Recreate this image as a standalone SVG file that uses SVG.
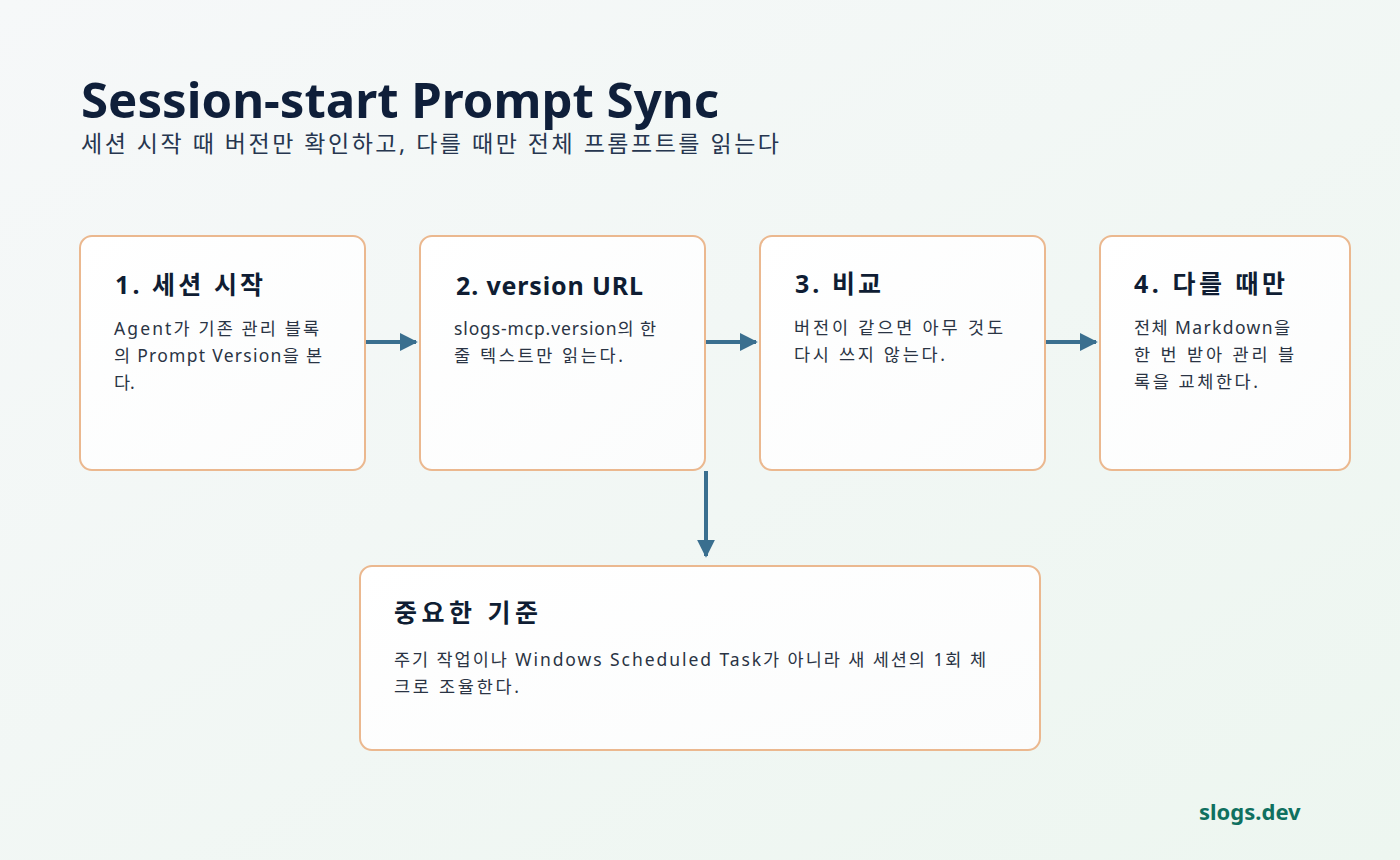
<svg xmlns="http://www.w3.org/2000/svg" width="1400" height="860" viewBox="0 0 1400 860">
<defs>
<linearGradient id="bg" x1="0" y1="0" x2="1" y2="1">
<stop offset="0" stop-color="#f6f8f9"/>
<stop offset="1" stop-color="#edf6f0"/>
</linearGradient>
<linearGradient id="card" x1="0" y1="0" x2="1" y2="1">
<stop offset="0" stop-color="#ffffff"/>
<stop offset="1" stop-color="#fbfcfc"/>
</linearGradient>
<marker id="arr" viewBox="0 0 10 10" refX="9" refY="5" markerWidth="4.5" markerHeight="4.5" orient="auto">
<path d="M0,0 L10,5 L0,10 z" fill="#3a6f8f"/>
</marker>
<style>
.card{fill:url(#card);stroke:#ebb88f;stroke-width:2}
.h{font-family:"Noto Sans","Noto Sans CJK KR",sans-serif;font-weight:700;font-size:25px;fill:#0f1d33}
.b{font-family:"Noto Sans","Noto Sans CJK KR",sans-serif;font-size:17.5px;fill:#2a3444}
.conn{stroke:#3a6f8f;stroke-width:4;fill:none;marker-end:url(#arr)}
</style>
</defs>
<rect width="1400" height="860" fill="url(#bg)"/>
<text x="81" y="118" font-family="Noto Sans, Noto Sans CJK KR, sans-serif" font-weight="700" font-size="49" fill="#0f1f3a" textLength="638" lengthAdjust="spacingAndGlyphs">Session-start Prompt Sync</text>
<text x="81" y="152" font-family="Noto Sans, Noto Sans CJK KR, sans-serif" font-size="23" fill="#26364f" textLength="698" lengthAdjust="spacing">세션 시작 때 버전만 확인하고, 다를 때만 전체 프롬프트를 읽는다</text>
<g id="connectors">
<line class="conn" x1="366" y1="342" x2="416" y2="342"/>
<line class="conn" x1="706" y1="342" x2="756" y2="342"/>
<line class="conn" x1="1046" y1="342" x2="1096" y2="342"/>
<line class="conn" x1="706" y1="471" x2="706" y2="556"/>
</g>
<g id="n1">
<rect class="card" x="80" y="236" width="285" height="234" rx="12"/>
<text class="h" x="115" y="294" textLength="148" lengthAdjust="spacing">1. 세션 시작</text>
<text class="b" x="114" y="335" textLength="205" lengthAdjust="spacing">Agent가 기존 관리 블록</text>
<text class="b" x="114" y="362" textLength="208" lengthAdjust="spacing">의 Prompt Version을 본</text>
<text class="b" x="114" y="389">다.</text>
</g>
<g id="n2">
<rect class="card" x="420" y="236" width="285" height="234" rx="12"/>
<text class="h" x="456" y="295" textLength="187" lengthAdjust="spacing">2. version URL</text>
<text class="b" x="454" y="335" textLength="202" lengthAdjust="spacing">slogs-mcp.version의 한</text>
<text class="b" x="454" y="362" textLength="169" lengthAdjust="spacing">줄 텍스트만 읽는다.</text>
</g>
<g id="n3">
<rect class="card" x="760" y="236" width="285" height="234" rx="12"/>
<text class="h" x="795" y="293" textLength="86" lengthAdjust="spacing">3. 비교</text>
<text class="b" x="794" y="334" textLength="209" lengthAdjust="spacing">버전이 같으면 아무 것도</text>
<text class="b" x="794" y="361" textLength="151" lengthAdjust="spacing">다시 쓰지 않는다.</text>
</g>
<g id="n4">
<rect class="card" x="1100" y="236" width="250" height="234" rx="12"/>
<text class="h" x="1134" y="293" textLength="151" lengthAdjust="spacing">4. 다를 때만</text>
<text class="b" x="1134" y="334" textLength="156" lengthAdjust="spacing">전체 Markdown을</text>
<text class="b" x="1134" y="361" textLength="160" lengthAdjust="spacing">한 번 받아 관리 블</text>
<text class="b" x="1134" y="388" textLength="124" lengthAdjust="spacing">록을 교체한다.</text>
</g>
<g id="n5">
<rect class="card" x="360" y="566" width="680" height="184" rx="12"/>
<text class="h" x="394" y="622" textLength="144" lengthAdjust="spacing">중요한 기준</text>
<text class="b" x="394" y="666" textLength="592" lengthAdjust="spacing">주기 작업이나 Windows Scheduled Task가 아니라 새 세션의 1회 체</text>
<text class="b" x="394" y="693" textLength="125" lengthAdjust="spacing">크로 조율한다.</text>
</g>
<text x="1199" y="820" font-family="Noto Sans, Noto Sans CJK KR, sans-serif" font-weight="700" font-size="22" fill="#0f7060">slogs.dev</text>
</svg>
